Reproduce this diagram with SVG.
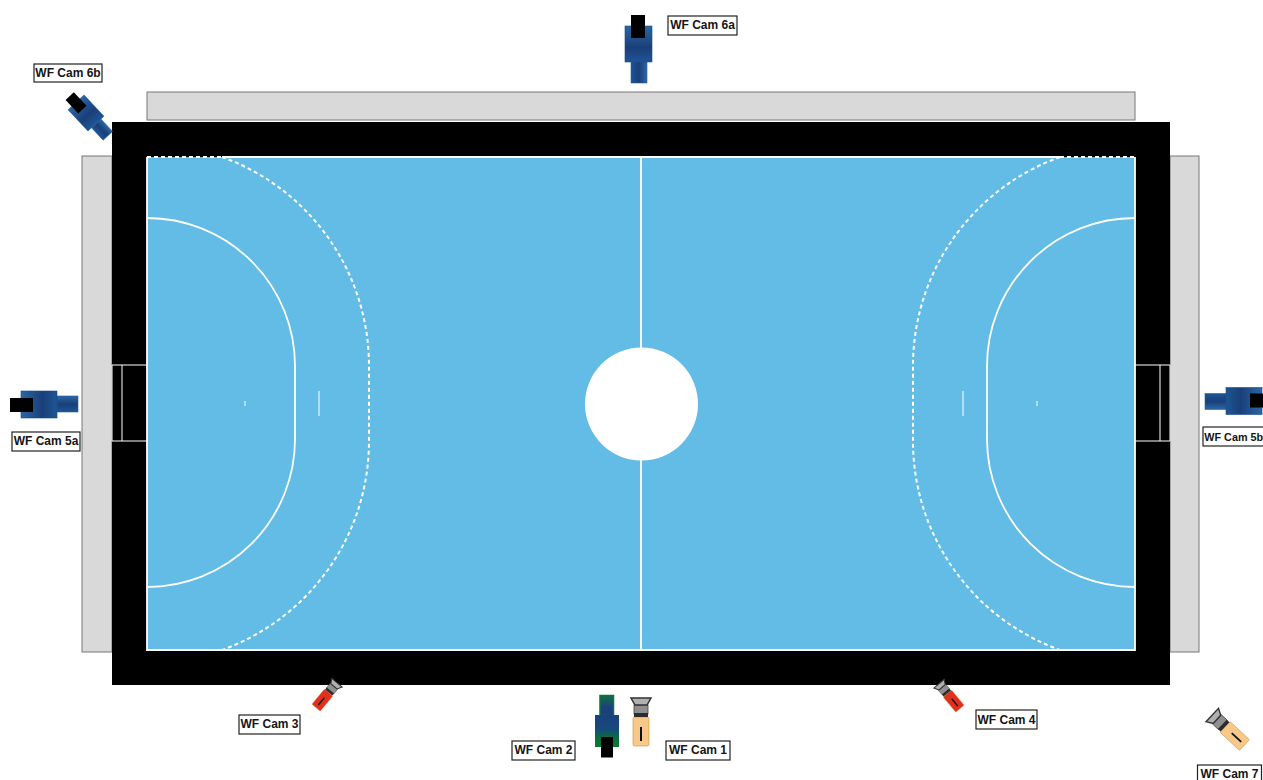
<svg xmlns="http://www.w3.org/2000/svg" width="1263" height="780" viewBox="0 0 1263 780">
<style>
.stand{fill:#d9d9d9;stroke:#777;stroke-width:1}
.line{fill:none;stroke:#fff;stroke-width:1.8}
.thin{fill:none;stroke:#fff;stroke-width:1}
.dash{fill:none;stroke:#fff;stroke-width:2;stroke-dasharray:4 3}
.lbl rect{fill:#fff;stroke:#222;stroke-width:1.2}
.lbl text{font-family:"Liberation Sans",Arial,sans-serif;font-size:12px;font-weight:700;fill:#151515;text-anchor:middle}
</style>
<defs>
<linearGradient id="blueH" x1="0" x2="1" y1="0" y2="0"><stop offset="0" stop-color="#1c5496"/><stop offset=".5" stop-color="#1a3f78"/><stop offset="1" stop-color="#2a68a8"/></linearGradient>
<linearGradient id="blueV" x1="0" x2="0" y1="0" y2="1"><stop offset="0" stop-color="#2a66a6"/><stop offset=".6" stop-color="#1a3f78"/><stop offset="1" stop-color="#1f5596"/></linearGradient>
<linearGradient id="greenBody" x1="0" x2="0" y1="0" y2="1"><stop offset="0" stop-color="#1c3f80"/><stop offset=".45" stop-color="#154c78"/><stop offset=".75" stop-color="#0a7038"/><stop offset="1" stop-color="#0a7a34"/></linearGradient>
<linearGradient id="greenTail" x1="0" x2="0" y1="0" y2="1"><stop offset="0" stop-color="#0f7040"/><stop offset=".6" stop-color="#1c3f80"/><stop offset="1" stop-color="#1c3f80"/></linearGradient>
<g id="bigCam">
<rect x="-7.500" y="18" width="16" height="21" fill="url(#blueH)" stroke="#2a5f98" stroke-width=".6"/>
<rect x="-13.500" y="-18" width="27" height="36" fill="url(#blueV)" stroke="#1a4a86" stroke-width=".6"/>
<rect x="-7.500" y="-29" width="14" height="23" fill="#000"/>
</g>
<g id="smallCam">
<rect x="-8" y="3" width="16" height="29" rx="1.500" stroke="#c9913f" stroke-width=".6"/>
<line x1="0" y1="13" x2="0" y2="27" stroke="#111" stroke-width="2"/>
<rect x="-7" y="-9" width="14" height="9" fill="#8f8f8f" stroke="#444" stroke-width=".8"/>
<rect x="-7" y="-1" width="14" height="4" fill="#2c2c2c"/>
<polygon points="-10,-16 10,-16 6,-9 -6,-9" fill="#b0b0b0" stroke="#333" stroke-width="1.500"/>
</g>
</defs>
<rect id="background" width="1263" height="780" fill="#fff"/>
<g id="stands">
<rect class="stand" x="147" y="92" width="988" height="28"/>
<rect class="stand" x="82" y="156" width="30" height="496"/>
<rect class="stand" x="1170" y="156" width="29" height="496"/>
</g>
<g id="court">
<rect x="112" y="122" width="1058" height="563" fill="#000"/>
<rect x="147" y="157" width="988" height="493" fill="#62bce6"/>
<path class="line" d="M222 157H1060M147 157V650H1135V157"/>
<path class="dash" d="M147 157H222M1060 157H1135"/>
<line class="line" x1="641" y1="157" x2="641" y2="650"/>
<circle cx="641.500" cy="404" r="56.500" fill="#fff"/>
<path class="line" d="M147 218A148 148 0 0 1 295 366V439A148 148 0 0 1 147 587"/>
<path class="line" d="M1135 218A148 148 0 0 0 987 366V439A148 148 0 0 0 1135 587"/>
<path class="dash" d="M222 157A222 222 0 0 1 369 366V441A222 222 0 0 1 222 650"/>
<path class="dash" d="M1060 157A222 222 0 0 0 913 366V441A222 222 0 0 0 1060 650"/>
<path class="thin" d="M319 391V416M963 391V416M245 401V406M1037 401V406"/>
<path class="thin" d="M147 365H112V441H147M122 365V441"/>
<path class="thin" d="M1135 365H1170V441H1135M1160 365V441"/>
</g>
<g id="connectors"></g>
<g id="cam6a"><use href="#bigCam" transform="translate(638.500 44)"/><g class="lbl"><rect x="668" y="16" width="69" height="19"/><text x="702.500" y="29">WF Cam 6a</text></g></g>
<g id="cam6b"><use href="#bigCam" transform="translate(86 113) rotate(-43) scale(.81)"/><g class="lbl"><rect x="34" y="64" width="68" height="18"/><text x="68" y="77">WF Cam 6b</text></g></g>
<g id="cam5a"><use href="#bigCam" transform="translate(39 404.500) rotate(-90)"/><g class="lbl"><rect x="12" y="432" width="68" height="19"/><text x="46" y="445">WF Cam 5a</text></g></g>
<g id="cam5b"><use href="#bigCam" transform="translate(1244 401) rotate(90)"/><g class="lbl"><rect x="1203" y="427" width="68" height="19"/><text x="1233.700" y="441" font-size="10.800" style="font-size:10.800px">WF Cam 5b</text></g></g>
<g id="cam2">
<rect x="600" y="695.500" width="13.500" height="20" fill="url(#greenTail)" stroke="#0f7040" stroke-width="1.500"/>
<rect x="595" y="715" width="24" height="32" fill="url(#greenBody)"/>
<rect x="601" y="737" width="12" height="20.500" fill="#000"/>
<g class="lbl"><rect x="512" y="741" width="63" height="19"/><text x="543.500" y="754">WF Cam 2</text></g></g>
<g id="cam1"><use href="#smallCam" fill="#f8c888" transform="translate(641 714)"/><g class="lbl"><rect x="666" y="741" width="64" height="19"/><text x="698" y="754">WF Cam 1</text></g></g>
<g id="cam3"><use href="#smallCam" fill="#e2301c" transform="translate(330 691) rotate(40) scale(.68)"/><g class="lbl"><rect x="239" y="715" width="61" height="19"/><text x="269.500" y="728">WF Cam 3</text></g></g>
<g id="cam4"><use href="#smallCam" fill="#e2301c" transform="translate(946 692) rotate(-40) scale(.68)"/><g class="lbl"><rect x="976" y="710" width="61" height="19"/><text x="1006.500" y="724">WF Cam 4</text></g></g>
<g id="cam7"><use href="#smallCam" fill="#f8c888" transform="translate(1223 725) rotate(-47) scale(.92)"/><g class="lbl"><rect x="1197.500" y="765" width="64" height="19"/><text x="1229.500" y="778">WF Cam 7</text></g></g>
</svg>
